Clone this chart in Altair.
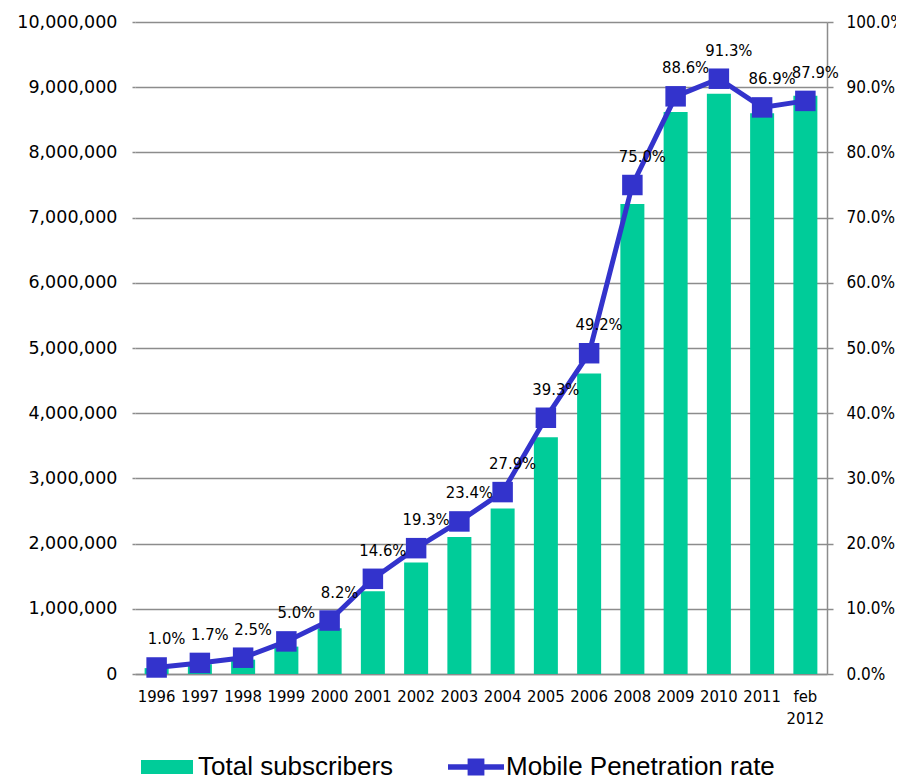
import altair as alt
import pandas as pd

years = ["1996", "1997", "1998", "1999", "2000", "2001", "2002", "2003",
         "2004", "2005", "2006", "2008", "2009", "2010", "2011", "feb 2012"]
subscribers = [90000, 150000, 220000, 420000, 700000, 1270000, 1710000, 2100000,
               2540000, 3630000, 4610000, 7210000, 8620000, 8900000, 8600000, 8870000]
penetration = [0.010, 0.017, 0.025, 0.050, 0.082, 0.146, 0.193, 0.234,
               0.279, 0.393, 0.492, 0.750, 0.886, 0.913, 0.869, 0.879]
left_ticks = [0, 1000000, 2000000, 3000000, 4000000, 5000000,
              6000000, 7000000, 8000000, 9000000, 10000000]
right_ticks = [0.0, 0.1, 0.2, 0.3, 0.4, 0.5, 0.6, 0.7, 0.8, 0.9, 1.0]
series_bar = "Total subscribers"
series_line = "Mobile Penetration rate"

df = pd.DataFrame({
    "year": years,
    "subs": subscribers,
    "rate": penetration,
    "s1": [series_bar] * len(years),
    "s2": [series_line] * len(years),
})

GREEN = "#00CC99"
BLUE = "#3333CC"
GRID = "#8C8C8C"

xenc = alt.X(
    "year:N", sort=years, title=None,
    scale=alt.Scale(paddingInner=0.445, paddingOuter=0.2225),
    axis=alt.Axis(labelAngle=0, ticks=False, domain=True, domainColor=GRID,
                  domainWidth=1.5, labelFont="DejaVu Sans Condensed",
                  labelFontSize=16.5, labelColor="black", labelPadding=14,
                  labelLineHeight=22,
                  labelExpr="split(datum.label, ' ')"),
)

bars = alt.Chart(df).mark_bar().encode(
    x=xenc,
    y=alt.Y("subs:Q", title=None,
            scale=alt.Scale(domain=[0, 10000000], nice=False),
            axis=alt.Axis(values=left_ticks, format=",d", grid=True,
                          gridColor=GRID, gridWidth=1.5, domain=False,
                          tickColor=GRID, tickSize=3, tickWidth=1.5,
                          labelFont="DejaVu Sans", labelFontSize=17.5,
                          labelColor="black", labelPadding=15)),
    color=alt.Color("s1:N",
                    scale=alt.Scale(domain=[series_bar], range=[GREEN]),
                    legend=alt.Legend(orient="none", legendX=6, legendY=719,
                                      title=None, padding=0,
                                      symbolType="M-1,-0.27H1V0.27H-1Z",
                                      symbolSize=2704, symbolStrokeWidth=0,
                                      labelFont="Liberation Sans",
                                      labelFontSize=26, labelOffset=5,
                                      labelColor="black", labelLimit=400)),
)

yright = alt.Y("rate:Q", title=None,
               scale=alt.Scale(domain=[0, 1], nice=False),
               axis=alt.Axis(orient="right", values=right_ticks, format=".1%",
                             grid=False, domain=True, domainColor=GRID,
                             domainWidth=1.5, tickColor=GRID, tickSize=6,
                             tickWidth=1.5, labelFont="DejaVu Sans Condensed",
                             labelFontSize=17, labelColor="black",
                             labelPadding=13))

line = alt.Chart(df).mark_line(color=BLUE, strokeWidth=5).encode(
    x=alt.X("year:N", sort=years), y=yright)

points = alt.Chart(df).mark_square(size=420, opacity=1).encode(
    x=alt.X("year:N", sort=years), y=yright,
    fill=alt.Fill("s2:N",
                  scale=alt.Scale(domain=[series_line], range=[BLUE]),
                  legend=alt.Legend(orient="none", legendX=313, legendY=717,
                                    title=None, padding=0,
                                    symbolType="M-1,-0.1H1V0.1H-1Z M-0.3,-0.3H0.3V0.3H-0.3Z",
                                    symbolSize=3136, symbolStrokeWidth=0,
                                    labelFont="Liberation Sans",
                                    labelFontSize=26, labelOffset=2,
                                    labelColor="black", labelLimit=400)),
)

labels = alt.Chart(df).mark_text(
    dx=10, dy=-28, font="DejaVu Sans Condensed", fontSize=16.5, color="black"
).encode(
    x=alt.X("year:N", sort=years), y=yright,
    text=alt.Text("rate:Q", format=".1%"),
)

right_layer = alt.layer(line, points, labels)

chart = alt.layer(bars, right_layer).resolve_scale(
    y="independent", color="independent", fill="independent"
).properties(
    width=692, height=652,
    autosize=alt.AutoSizeParams(type="none"),
    padding={"left": 127, "top": 14, "right": 69, "bottom": 106},
).configure_view(stroke=None)

chart.save("out.html", embed_options={"renderer": "svg", "actions": False})
